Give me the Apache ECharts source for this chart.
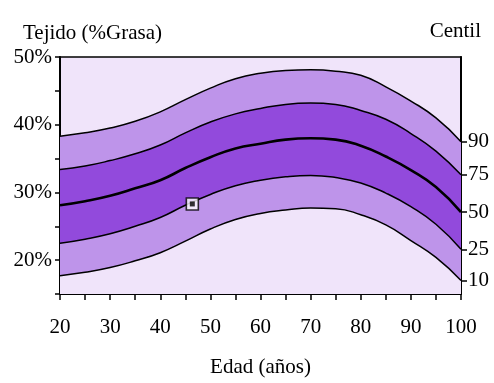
<!DOCTYPE html>
<html>
<head>
<meta charset="utf-8">
<script src="https://cdn.jsdelivr.net/npm/echarts@6/dist/echarts.min.js"></script>
<style>html,body{margin:0;padding:0;background:#fff}#c{width:494px;height:383px}</style>
</head>
<body>
<div id="c"></div>
<script>
const ages = [20,25,30,35,40,45,50,55,60,65,70,75,80,85,90,95,100];
const p90 = [38.3,38.8,39.5,40.5,41.9,43.7,45.4,46.8,47.6,48.0,48.1,47.9,47.3,45.6,43.5,41.0,37.5];
const p75 = [33.4,33.9,34.7,35.7,37.0,38.8,40.4,41.6,42.4,43.0,43.2,43.0,42.1,40.8,38.7,36.1,32.6];
const p50 = [28.1,28.7,29.5,30.6,31.8,33.6,35.2,36.5,37.2,37.8,38.0,37.8,36.9,35.3,33.3,30.8,27.1];
const p25 = [22.5,23.1,23.9,25.0,26.3,28.1,29.7,31.0,31.8,32.3,32.5,32.2,31.4,29.9,27.9,25.3,21.6];
const p10 = [17.7,18.2,18.9,19.9,21.1,22.8,24.6,26.0,26.9,27.4,27.7,27.6,26.7,25.2,22.9,20.4,17.0];
const centileLabels = ['90','75','50','25','10'];
const markerPoint = [46.4, 28.3];
const yTickLabels = [20,30,40,50];

const FONT = '"Liberation Serif", "DejaVu Serif", serif';
const LIGHT = '#F0E4FA', MED = '#BE94EA', DARK = '#924ADC';
const curves = [p90,p75,p50,p25,p10];
const fills = [MED, DARK, null, MED, LIGHT];
const endVals = curves.map(c => c[c.length-1]);

function pairs(arr){ return ages.map((a,i)=>[a,arr[i]]); }

const series = curves.map((c,i)=>({
  type:'line', data:pairs(c), showSymbol:false, smooth:0.5, silent:true,
  lineStyle:{color:'#000', width: i===2 ? 2.6 : 1.5},
  areaStyle: fills[i] ? {color:fills[i], opacity:1, origin:'start'} : undefined,
  z: 2
}));
series.push({type:'scatter', data:[markerPoint], symbol:'rect', symbolSize:12,
  itemStyle:{color:'#fff', borderColor:'#000', borderWidth:1.6}, z:5, silent:true});
series.push({type:'scatter', data:[markerPoint], symbol:'rect', symbolSize:5,
  itemStyle:{color:'#000'}, z:6, silent:true});

const chart = echarts.init(document.getElementById('c'), null, {renderer:'canvas'});
chart.setOption({
  animation:false,
  backgroundColor:'#fff',
  textStyle:{fontFamily:FONT, color:'#000'},
  title:[
    {text:'Tejido (%Grasa)', left:18, top:18, textStyle:{fontFamily:FONT, fontSize:21, fontWeight:'normal', color:'#000'}},
    {text:'Centil', right:8, top:16, textStyle:{fontFamily:FONT, fontSize:21, fontWeight:'normal', color:'#000'}}
  ],
  grid:{left:60, right:33, top:57, bottom:81, show:true, backgroundColor:LIGHT, borderColor:'#000', borderWidth:1.5},
  xAxis:{type:'value', min:20, max:100, interval:5,
    name:'Edad (años)', nameLocation:'middle', nameGap:63,
    nameTextStyle:{fontFamily:FONT, fontSize:21, color:'#000'},
    axisLine:{lineStyle:{color:'#000', width:2}},
    axisTick:{length:6, lineStyle:{color:'#000', width:1.5}},
    axisLabel:{fontFamily:FONT, fontSize:21, color:'#000', margin:23,
      formatter:v=> v%10===0 ? String(v) : ''},
    splitLine:{show:false}},
  yAxis:[
    {type:'value', min:15, max:50, interval:5, position:'left',
      axisLine:{show:true, lineStyle:{color:'#000', width:2}},
      axisTick:{show:true, length:5, lineStyle:{color:'#000', width:1.5}},
      axisLabel:{fontFamily:FONT, fontSize:21, color:'#000', margin:8, padding:[14,0,0,0],
        formatter:v=> yTickLabels.includes(v) ? v+'%' : ''},
      splitLine:{show:false}},
    {type:'value', min:15, max:50, position:'right',
      axisLine:{show:true, lineStyle:{color:'#000', width:2}},
      axisTick:{show:true, length:6, customValues:endVals, lineStyle:{color:'#000', width:1.5}},
      axisLabel:{fontFamily:FONT, fontSize:21, color:'#000', margin:7, padding:[14,0,0,0], customValues:endVals,
        formatter:v=>{ let bi=0,bd=1e9; endVals.forEach((e,i)=>{const d=Math.abs(e-v); if(d<bd){bd=d;bi=i;}}); return centileLabels[bi]; }},
      splitLine:{show:false}}
  ],
  series:series
});
</script>
</body>
</html>
